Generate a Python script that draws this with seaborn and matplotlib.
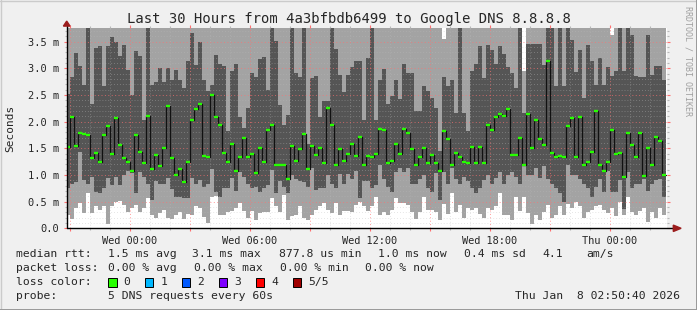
import numpy as np
import pandas as pd
import matplotlib
matplotlib.use("Agg")
import matplotlib.pyplot as plt
import seaborn as sns
from matplotlib.patches import Polygon, Rectangle
from matplotlib.lines import Line2D

# ---------------- data (ms), one value per 12-minute bar, 150 bars over 30 h ----------------
median = [
    1.53, 2.09, 1.54, 1.79, 1.77, 1.75, 1.32, 1.41, 1.24, 1.75,
    1.92, 1.39, 2.07, 1.56, 1.32, 1.24, 1.07, 1.75, 1.43, 1.23,
    2.11, 1.11, 1.38, 1.16, 1.51, 2.29, 1.31, 1.00, 1.11, 0.87,
    1.24, 2.04, 2.24, 2.33, 1.36, 1.34, 2.50, 2.09, 1.93, 1.42,
    1.25, 1.59, 1.08, 1.33, 1.70, 1.34, 1.40, 1.03, 1.51, 1.25,
    1.85, 1.93, 1.18, 1.18, 1.19, 0.93, 1.55, 1.27, 1.49, 1.76,
    1.11, 1.55, 1.38, 1.51, 1.23, 2.26, 1.94, 1.18, 1.49, 1.27,
    1.40, 1.59, 1.36, 1.71, 1.19, 1.36, 1.34, 1.40, 1.87, 1.85,
    1.23, 1.27, 1.59, 1.40, 1.86, 1.78, 1.49, 1.19, 1.34, 1.51,
    1.23, 1.38, 1.23, 1.08, 1.83, 1.68, 1.18, 1.42, 1.34, 1.25,
    1.23, 1.53, 1.23, 1.53, 1.23, 1.94, 1.85, 2.09, 2.14, 2.11,
    2.24, 1.38, 1.38, 1.70, 1.18, 2.15, 1.51, 2.04, 1.68, 1.57,
    3.13, 1.42, 1.33, 1.36, 1.33, 1.91, 2.06, 1.34, 2.09, 1.18,
    1.25, 1.44, 2.20, 1.18, 1.08, 1.25, 1.85, 1.40, 1.42, 0.97,
    1.79, 1.57, 1.33, 1.79, 0.99, 1.51, 1.19, 1.72, 1.63, 1.00,
]
# ping 1 (lowest) - top of the white region
ping1 = [
    0.25, 0.17, 0.39, 0.48, 0.28, 0.67, 0.29, 0.41, 0.34, 0.41,
    0.08, 0.42, 0.50, 0.52, 0.44, 0.31, 0.38, 0.44, 0.31, 0.39,
    0.56, 0.25, 0.19, 0.28, 0.34, 0.19, 0.17, 0.25, 0.31, 0.17,
    0.27, 0.25, 0.42, 0.38, 0.21, 0.10, 0.59, 0.61, 0.25, 0.25,
    0.31, 0.33, 0.39, 0.47, 0.33, 0.19, 0.33, 0.16, 0.28, 0.31,
    0.31, 0.56, 0.41, 0.31, 0.62, 0.16, 0.24, 0.25, 0.42, 0.19,
    0.16, 0.25, 0.34, 0.42, 0.48, 0.34, 0.28, 0.47, 0.25, 0.33,
    0.33, 0.30, 0.44, 0.50, 0.41, 0.33, 0.41, 0.59, 0.25, 0.30,
    0.25, 0.34, 0.56, 0.47, 0.47, 0.44, 0.31, 0.18, 0.31, 0.59,
    0.34, 0.34, 0.31, 0.16, 0.45, 0.26, 0.66, 0.31, 0.44, 0.19,
    0.39, 0.34, 0.39, 0.26, 0.20, 0.39, 0.34, 0.41, 0.66, 0.25,
    0.25, 0.16, 0.58, 0.33, 0.59, 0.28, 0.09, 0.25, 0.16, 0.31,
    0.44, 0.19, 0.25, 0.41, 0.25, 0.45, 0.39, 0.50, 0.41, 0.19,
    0.31, 0.34, 0.41, 0.44, 0.34, 0.28, 0.39, 0.24, 0.50, 0.25,
    0.58, 0.30, 0.25, 0.33, 0.38, 0.11, 0.31, 0.20, 0.39, 0.25,
]
# ping 2 - bottom of the dark smoke
ping2 = [
    0.76, 0.84, 0.86, 1.44, 0.91, 0.84, 0.97, 0.69, 0.66, 0.75,
    0.94, 0.81, 0.97, 0.81, 1.00, 1.08, 1.04, 0.66, 1.06, 0.97,
    0.84, 0.53, 0.88, 0.84, 0.84, 0.94, 0.73, 0.59, 0.59, 0.56,
    0.56, 0.94, 0.84, 0.91, 0.78, 0.83, 1.11, 0.69, 0.59, 0.75,
    0.75, 0.94, 0.70, 1.06, 0.97, 0.84, 0.75, 0.78, 0.69, 0.75,
    0.81, 1.09, 0.66, 0.89, 0.78, 0.66, 1.00, 0.93, 0.88, 0.86,
    0.78, 1.13, 0.71, 0.75, 0.76, 1.00, 0.84, 0.76, 1.01, 0.84,
    1.01, 0.93, 1.08, 0.56, 0.88, 0.88, 0.76, 0.81, 1.18, 0.93,
    0.78, 0.69, 1.06, 1.14, 1.06, 1.13, 0.83, 0.83, 0.93, 1.00,
    0.76, 0.69, 1.03, 0.53, 1.06, 0.83, 1.13, 0.93, 0.83, 0.97,
    0.88, 0.76, 0.67, 0.75, 0.91, 1.00, 0.83, 0.94, 1.06, 0.84,
    1.00, 1.06, 0.97, 0.84, 1.16, 1.00, 1.00, 1.14, 0.94, 1.16,
    0.93, 0.84, 0.75, 0.66, 0.50, 1.18, 1.00, 1.00, 0.93, 0.83,
    0.75, 0.59, 0.78, 0.93, 0.68, 1.08, 0.69, 0.68, 0.91, 0.36,
    1.06, 0.76, 0.83, 0.83, 0.92, 0.70, 0.84, 0.91, 0.93, 0.59,
]
# ping 4 - top of the dark smoke
ping4 = [
    2.51, 2.84, 3.29, 3.04, 2.69, 3.80, 2.34, 3.39, 3.41, 2.67,
    3.42, 3.58, 3.50, 3.23, 3.44, 2.96, 2.50, 3.33, 3.23, 2.03,
    3.80, 2.69, 2.75, 3.00, 2.75, 3.00, 2.78, 2.96, 2.78, 2.63,
    3.14, 3.66, 3.06, 3.50, 2.78, 2.58, 2.69, 3.25, 3.08, 3.05,
    1.83, 2.95, 3.09, 2.09, 1.88, 2.25, 2.92, 2.84, 3.17, 3.21,
    2.59, 3.80, 3.51, 2.31, 1.93, 2.12, 3.80, 2.92, 2.83, 3.80,
    1.59, 2.81, 2.86, 2.09, 2.39, 2.39, 3.80, 3.36, 2.88, 2.56,
    2.88, 3.03, 3.14, 3.14, 2.03, 3.19, 3.80, 2.03, 2.78, 2.98,
    2.33, 2.49, 2.78, 2.43, 3.08, 2.91, 2.91, 2.20, 2.20, 2.67,
    2.58, 2.45, 2.25, 1.45, 2.84, 2.66, 2.78, 2.16, 3.80, 2.16,
    1.83, 2.95, 3.09, 3.42, 2.81, 3.44, 3.34, 3.09, 3.42, 3.26,
    3.03, 2.91, 2.64, 3.80, 2.16, 3.45, 3.45, 3.45, 3.45, 3.06,
    3.80, 3.80, 2.66, 3.80, 2.66, 3.80, 3.53, 2.94, 3.34, 2.44,
    3.44, 3.14, 2.69, 3.20, 2.69, 3.03, 2.86, 2.95, 3.80, 2.95,
    3.80, 3.62, 2.86, 2.83, 2.83, 3.62, 2.88, 3.04, 3.04, 2.78,
]
# ping 5 (highest) - mostly above the 3.75 ms top of the graph
ping5 = [
    3.9, 3.9, 3.9, 3.9, 3.9, 3.9, 3.9, 3.9, 3.9, 3.9,
    3.9, 3.9, 3.9, 3.9, 3.9, 3.9, 3.9, 3.9, 3.9, 3.9,
    3.9, 3.9, 3.9, 3.9, 3.9, 3.9, 3.9, 3.9, 3.9, 3.9,
    3.9, 3.9, 3.9, 3.9, 3.9, 3.9, 3.9, 3.9, 3.9, 3.9,
    3.9, 3.9, 3.9, 3.9, 3.9, 3.9, 3.9, 3.9, 3.9, 3.9,
    3.9, 3.9, 3.9, 3.9, 3.9, 3.9, 3.9, 3.9, 3.9, 3.9,
    3.9, 3.9, 3.9, 3.9, 3.9, 3.9, 3.9, 3.9, 3.9, 3.9,
    3.9, 3.9, 3.9, 3.9, 3.9, 3.9, 3.9, 3.9, 3.9, 3.9,
    3.9, 3.9, 3.9, 3.9, 3.9, 3.9, 3.9, 3.9, 3.9, 3.9,
    3.9, 3.9, 3.9, 3.9, 3.55, 3.9, 3.9, 3.9, 3.9, 3.9,
    3.9, 3.9, 3.9, 3.9, 3.9, 3.9, 3.9, 3.9, 3.9, 3.9,
    3.9, 3.9, 3.9, 3.9, 2.95, 3.9, 3.9, 3.9, 3.9, 3.9,
    3.9, 3.9, 3.9, 3.9, 3.9, 3.9, 3.9, 3.9, 3.9, 3.9,
    3.9, 3.9, 3.9, 3.9, 3.9, 3.9, 3.62, 3.9, 3.9, 3.9,
    3.9, 3.9, 3.9, 3.9, 3.9, 3.9, 3.9, 3.9, 3.9, 3.9,
]

bar_hours = 0.2          # 12-minute consolidation
x_tick_labels = ["Wed 00:00", "Wed 06:00", "Wed 12:00", "Wed 18:00", "Thu 00:00"]
first_label_hour = 3 + 9 / 60 + 20 / 3600   # Wed 00:00 relative to start 20:50:40
y_ticks = [0.0, 0.5, 1.0, 1.5, 2.0, 2.5, 3.0, 3.5]
y_tick_labels = ["0.0", "0.5 m", "1.0 m", "1.5 m", "2.0 m", "2.5 m", "3.0 m", "3.5 m"]

title = "Last 30 Hours from 4a3bfbdb6499 to Google DNS 8.8.8.8"
loss_labels = ["0", "1", "2", "3", "4", "5/5"]
loss_colors = ["#26ff00", "#00b8ff", "#0059ff", "#7e00ff", "#ff0000", "#a00000"]

# ---------------- figure ----------------
sns.set_style("white")
plt.rcParams["font.family"] = ["DejaVu Sans Mono", "DejaVu Sans"]

W, H = 697, 310
BG = "#f0f0f0"
LIGHT = "#a3a3a3"
DARK = "#555555"
fig = plt.figure(figsize=(W / 100, H / 100), dpi=100, facecolor=BG)

x0, x1, ytop, ybot = 66.7, 666.7, 28.3, 228.3
ax = fig.add_axes([x0 / W, 1 - ybot / H, (x1 - x0) / W, (ybot - ytop) / H])
ax.set_facecolor("white")

n = len(median)
edges = np.arange(n + 1) * bar_hours - 0.05


def ext(a):
    a = np.asarray(a, float)
    return np.append(a, a[-1])


ax.fill_between(edges, ext(ping1), ext(ping2), step="post", color=LIGHT, lw=0, zorder=1)
ax.fill_between(edges, ext(ping2), ext(ping4), step="post", color=DARK, lw=0, zorder=1)
ax.fill_between(edges, ext(ping4), ext(ping5), step="post", color=LIGHT, lw=0, zorder=1)

# median: thin dark step line with green (0 % loss) segments
df = pd.DataFrame({"x": edges, "m": ext(median)})
sns.lineplot(data=df, x="x", y="m", ax=ax, drawstyle="steps-post", color="#111111",
             lw=0.9, estimator=None, sort=False, zorder=3)
ax.hlines(median, edges[:-1], edges[1:], colors=loss_colors[0], lw=1.7, zorder=4)
ax.set_xlabel("")
ax.set_ylabel("")

ax.set_xlim(0, 30)
ax.set_ylim(0, 3.75)

# ticks & grid
label_pos = [first_label_hour + 6 * i for i in range(len(x_tick_labels))]
major_x = [first_label_hour - 3 + 3 * i for i in range(11) if first_label_hour - 3 + 3 * i < 30]
minor_x = [first_label_hour - 3 + i for i in range(31) if first_label_hour - 3 + i < 30]
ax.set_xticks(major_x)
ax.set_xticklabels([x_tick_labels[label_pos.index(p)] if p in label_pos else "" for p in major_x],
                   fontsize=7.4)
ax.set_xticks(minor_x, minor=True)
ax.set_yticks(y_ticks)
ax.set_yticklabels(y_tick_labels, fontsize=7.5)
ax.set_yticks(np.round(np.arange(0, 3.75, 0.1), 2), minor=True)

ax.set_axisbelow(False)
ax.grid(which="minor", color="#bcbcbc", linestyle=(0, (1, 2.5)), lw=0.6, alpha=0.5)
ax.grid(which="major", color="#ff7070", linestyle=(0, (1, 2.5)), lw=0.7, alpha=0.7)
ax.tick_params(which="both", direction="out", top=True, right=True, left=True, bottom=True)
ax.tick_params(which="major", length=2.5, width=0.8, color="#ff7070", pad=3)
ax.tick_params(which="minor", length=1.5, width=0.8, color="#b8b8b8")
for s in ax.spines.values():
    s.set_visible(False)

# axes with arrows (rrdtool style)
ax.plot([0, 1.012], [0, 0], transform=ax.transAxes, color="black", lw=1, clip_on=False, zorder=6)
ax.plot([0, 0], [0, 1.012], transform=ax.transAxes, color="black", lw=1, clip_on=False, zorder=6)
arrow_c = "#9b1c1c"
ax.add_patch(Polygon([[1.011, -0.016], [1.011, 0.016], [1.024, 0]], closed=True,
                     transform=ax.transAxes, color=arrow_c, clip_on=False, zorder=7))
ax.add_patch(Polygon([[-0.0055, 1.011], [0.0055, 1.011], [0, 1.036]], closed=True,
                     transform=ax.transAxes, color=arrow_c, clip_on=False, zorder=7))

# labels
fig.text(0.5, 1 - 18.5 / H, title, ha="center", va="center", fontsize=10)
fig.text(10 / W, 1 - 128 / H, "Seconds", rotation=90, ha="center", va="center", fontsize=8)
fig.text(688 / W, 1 - 6 / H, "RRDTOOL / TOBI OETIKER", rotation=-90, ha="center", va="top",
         fontsize=6, color="#a0a0a0")


def ftext(x, y, s, **kw):
    fig.text(x / W, 1 - y / H, s, va="center", fontsize=8.2, **kw)


ftext(16.4, 254.3, "median rtt:")
for xx, s in [(107.6, "1.5 ms avg"), (192.4, "3.1 ms max"), (279.1, "877.8 us min"),
              (377.8, "1.0 ms now"), (464.4, "0.4 ms sd"), (542.2, "4.1"), (586.7, "am/s")]:
    ftext(xx, 254.3, s)
ftext(16.4, 268.3, "packet loss:")
for xx, s in [(107.6, "0.00 % avg"), (193.8, "0.00 % max"), (280.0, "0.00 % min"),
              (365.0, "0.00 % now")]:
    ftext(xx, 268.3, s)
ftext(16.4, 282.3, "loss color:")
for i, (lab, col) in enumerate(zip(loss_labels, loss_colors)):
    bx = 108.0 + 36.9 * i
    fig.add_artist(Rectangle((bx / W, 1 - 286.5 / H), 8.5 / W, 8.5 / H, transform=fig.transFigure,
                             facecolor=col, edgecolor="black", lw=0.7))
    ftext(bx + 15.5, 282.3, lab)
ftext(16.4, 296.3, "probe:")
ftext(107.6, 296.3, "5 DNS requests every 60s")
ftext(680.0, 296.3, "Thu Jan  8 02:50:40 2026", ha="right")

# 3D frame
fig.add_artist(Line2D([0, 1], [1 - 0.5 / H, 1 - 0.5 / H], transform=fig.transFigure, color="#cbcbcb", lw=1))
fig.add_artist(Line2D([0.5 / W, 0.5 / W], [0, 1], transform=fig.transFigure, color="#cbcbcb", lw=1))
fig.add_artist(Line2D([0, 1], [0.5 / H, 0.5 / H], transform=fig.transFigure, color="#999999", lw=1.4))
fig.add_artist(Line2D([1 - 0.5 / W, 1 - 0.5 / W], [0, 1], transform=fig.transFigure, color="#999999", lw=1.4))

fig.savefig("out.png", dpi=100, facecolor=BG)
